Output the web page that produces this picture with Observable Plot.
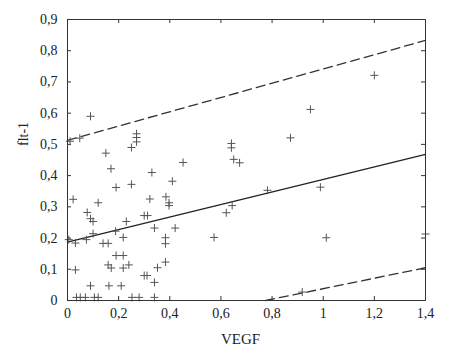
<!DOCTYPE html>
<html><head><meta charset="utf-8">
<script src="https://cdn.jsdelivr.net/npm/d3@7"></script>
<script src="https://cdn.jsdelivr.net/npm/@observablehq/plot@0.6"></script>
<style>body{margin:0;background:#fff}</style>
</head><body><div id="chart"></div>
<script>
// Scatter data: VEGF (x) and flt-1 (y)
const vegf = [
  0.01, 0.048, 0.09, 0.15, 0.25, 0.27, 0.27, 0.27, 0.17, 0.19, 0.25, 0.33, 0.41, 0.452,
  0.641, 0.641, 0.65, 0.673, 0.872, 0.95, 1.2, 0.782, 0.989, 1.012, 1.4, 0.918, 0.644,
  0.621, 0.573, 0.022, 0.12, 0.322, 0.385, 0.397, 0.397, 0.077, 0.09, 0.1, 0.23, 0.3,
  0.313, 0.1, 0.188, 0.34, 0.421, 0.005, 0.031, 0.074, 0.139, 0.159, 0.218, 0.383, 0.383,
  0.19, 0.218, 0.159, 0.171, 0.218, 0.24, 0.352, 0.383, 0.031, 0.3, 0.311, 0.34, 0.09,
  0.162, 0.21, 0.035, 0.05, 0.07, 0.105, 0.12, 0.252, 0.28, 0.34
];
const flt1 = [
  0.51, 0.52, 0.59, 0.472, 0.49, 0.534, 0.522, 0.508, 0.422, 0.362, 0.372, 0.41, 0.382, 0.442,
  0.503, 0.489, 0.452, 0.441, 0.521, 0.612, 0.721, 0.353, 0.363, 0.201, 0.213, 0.027, 0.304,
  0.281, 0.202, 0.324, 0.313, 0.325, 0.332, 0.313, 0.304, 0.282, 0.262, 0.253, 0.253, 0.272,
  0.272, 0.214, 0.222, 0.232, 0.232, 0.195, 0.184, 0.195, 0.183, 0.183, 0.202, 0.201, 0.182,
  0.144, 0.144, 0.114, 0.104, 0.104, 0.114, 0.105, 0.123, 0.098, 0.08, 0.08, 0.058, 0.047,
  0.047, 0.047, 0.01, 0.01, 0.01, 0.01, 0.01, 0.01, 0.01, 0.01
];
// Regression line and bounds
const fitX = [0, 1.4];
const fitY = [0.187, 0.468];
const upperX = [0, 1.4];
const upperY = [0.513, 0.833];
const lowerX = [0.775, 1.4];
const lowerY = [0, 0.105];
// Ticks
const xTicks = [0, 0.2, 0.4, 0.6, 0.8, 1, 1.2, 1.4];
const yTicks = [0, 0.1, 0.2, 0.3, 0.4, 0.5, 0.6, 0.7, 0.8, 0.9];
const xLabel = "VEGF";
const yLabel = "flt-1";

const points = vegf.map((x, i) => ({x, y: flt1[i]}));
const fit = fitX.map((x, i) => ({x, y: fitY[i]}));
const upper = upperX.map((x, i) => ({x, y: upperY[i]}));
const lower = lowerX.map((x, i) => ({x, y: lowerY[i]}));
const fmt = d => String(d).replace(".", ",");

const plusSymbol = {
  draw(context) {
    const h = 4;
    context.moveTo(-h, 0); context.lineTo(h, 0);
    context.moveTo(0, -h); context.lineTo(0, h);
  }
};

const W = 449, H = 359, mL = 67, mR = 24, mT = 19, mB = 59;
const pw = W - mL - mR, ph = H - mT - mB, tl = 4;

const chart = Plot.plot({
  width: W, height: H,
  marginLeft: mL, marginRight: mR, marginTop: mT, marginBottom: mB,
  x: {domain: [0, 1.4]},
  y: {domain: [0, 0.9]},
  style: {fontFamily: "Liberation Serif", fontSize: "14px", color: "#222", background: "white"},
  marks: [
    Plot.axisX({ticks: xTicks, tickSize: 0, tickPadding: 8, tickFormat: fmt, label: null, fontSize: 14}),
    Plot.axisY({ticks: yTicks, tickSize: 0, tickPadding: 10, tickFormat: fmt, label: null, fontSize: 14}),
    Plot.tickX(xTicks, {x: d => d, insetTop: ph - tl, stroke: "#333"}),
    Plot.tickX(xTicks, {x: d => d, insetBottom: ph - tl, stroke: "#333"}),
    Plot.tickY(yTicks, {y: d => d, insetLeft: pw - tl, stroke: "#333"}),
    Plot.tickY(yTicks, {y: d => d, insetRight: pw - tl, stroke: "#333"}),
    Plot.line(upper, {x: "x", y: "y", stroke: "#333", strokeWidth: 1.3, strokeDasharray: "9,5"}),
    Plot.line(lower, {x: "x", y: "y", stroke: "#333", strokeWidth: 1.3, strokeDasharray: "9,5"}),
    Plot.line(fit, {x: "x", y: "y", stroke: "#222", strokeWidth: 1.4}),
    Plot.dot(points, {x: "x", y: "y", symbol: plusSymbol, stroke: "#555", strokeWidth: 1, fill: "none", r: 4}),
    Plot.frame({stroke: "#333"}),
    Plot.text([xLabel], {frameAnchor: "bottom", dx: -6, dy: 43, fontSize: 15, fill: "#222"}),
    Plot.text([yLabel], {frameAnchor: "left", dx: -44, dy: -14, rotate: -90, fontSize: 14, fill: "#222"})
  ]
});
document.getElementById("chart").appendChild(chart);
</script>
</body></html>
